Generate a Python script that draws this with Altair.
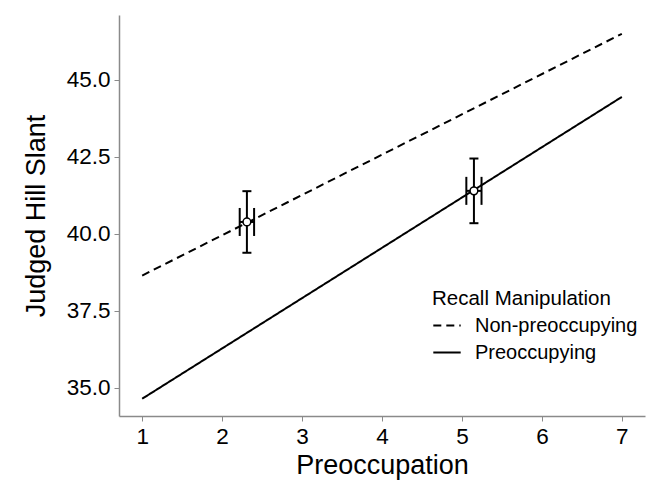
import altair as alt
import pandas as pd

# ---- data ----
x_ends = [1, 7]
nonpre_y = [38.65, 46.5]
pre_y = [34.65, 44.45]
conditions = ["Non-preoccupying", "Preoccupying"]

point_x = [2.31, 5.15]
point_y = [40.39, 41.40]
y_err = [1.0, 1.05]
x_err = [0.09, 0.095]

y_ticks = [35.0, 37.5, 40.0, 42.5, 45.0]
x_ticks = [1, 2, 3, 4, 5, 6, 7]

FONT = "Liberation Sans"

lines_df = pd.DataFrame({
    "x": x_ends + x_ends,
    "y": nonpre_y + pre_y,
    "cond": [conditions[0]] * 2 + [conditions[1]] * 2,
})

pts = pd.DataFrame({
    "x": point_x,
    "y": point_y,
    "ylo": [y - e for y, e in zip(point_y, y_err)],
    "yhi": [y + e for y, e in zip(point_y, y_err)],
    "xlo": [x - e for x, e in zip(point_x, x_err)],
    "xhi": [x + e for x, e in zip(point_x, x_err)],
})

xscale = alt.Scale(domain=[0.71, 7.29], nice=False, zero=False)
yscale = alt.Scale(domain=[34.09, 47.11], nice=False, zero=False)

xaxis = alt.Axis(values=x_ticks, title="Preoccupation", format="d")
yaxis = alt.Axis(values=y_ticks, title="Judged Hill Slant", format=".1f")

lines = alt.Chart(lines_df).mark_line(color="black", strokeWidth=2).encode(
    x=alt.X("x:Q", scale=xscale, axis=xaxis),
    y=alt.Y("y:Q", scale=yscale, axis=yaxis),
    strokeDash=alt.StrokeDash(
        "cond:N",
        scale=alt.Scale(domain=conditions, range=[[8, 5], [1, 0]]),
        legend=alt.Legend(
            title="Recall Manipulation",
            orient="none",
            legendX=313,
            legendY=274,
            symbolType="stroke",
            symbolStrokeColor="black",
            symbolStrokeWidth=2,
            symbolSize=750,
            labelLimit=400,
        ),
    ),
)

base = alt.Chart(pts)

vbar = base.mark_rule(color="black", strokeWidth=2).encode(
    x=alt.X("x:Q", scale=xscale), y=alt.Y("ylo:Q", scale=yscale), y2="yhi:Q"
)
vcap_top = base.mark_rule(color="black", strokeWidth=2, xOffset=-4.5, x2Offset=4.5).encode(
    x=alt.X("x:Q", scale=xscale), x2="x:Q", y=alt.Y("yhi:Q", scale=yscale)
)
vcap_bot = base.mark_rule(color="black", strokeWidth=2, xOffset=-4.5, x2Offset=4.5).encode(
    x=alt.X("x:Q", scale=xscale), x2="x:Q", y=alt.Y("ylo:Q", scale=yscale)
)
hbar = base.mark_rule(color="black", strokeWidth=2).encode(
    x=alt.X("xlo:Q", scale=xscale), x2="xhi:Q", y=alt.Y("y:Q", scale=yscale)
)
hcap_l = base.mark_rule(color="black", strokeWidth=2, yOffset=-14, y2Offset=14).encode(
    x=alt.X("xlo:Q", scale=xscale), y=alt.Y("y:Q", scale=yscale), y2="y:Q"
)
hcap_r = base.mark_rule(color="black", strokeWidth=2, yOffset=-14, y2Offset=14).encode(
    x=alt.X("xhi:Q", scale=xscale), y=alt.Y("y:Q", scale=yscale), y2="y:Q"
)
points = base.mark_point(
    shape="circle", filled=True, fill="white", stroke="black", strokeWidth=1.5, size=60, opacity=1
).encode(x=alt.X("x:Q", scale=xscale), y=alt.Y("y:Q", scale=yscale))

chart = alt.layer(lines, vbar, vcap_top, vcap_bot, hbar, hcap_l, hcap_r, points).properties(
    width=526,
    height=401,
    autosize=alt.AutoSizeParams(type="none"),
    padding={"left": 119, "top": 15, "right": 9, "bottom": 69},
    background="white",
).configure_view(stroke=None).configure_axis(
    grid=False,
    domainColor="#8a8a8a",
    domainWidth=1.5,
    tickColor="#8a8a8a",
    tickSize=5,
    tickWidth=1,
    labelColor="black",
    labelFont=FONT,
    labelFontSize=22.5,
    labelPadding=4,
    titleFont=FONT,
    titleFontSize=27,
    titleFontWeight="normal",
    titleColor="black",
).configure_axisX(titlePadding=5).configure_axisY(titlePadding=16).configure_legend(
    titleFont=FONT,
    titleFontSize=20.5,
    titleFontWeight="normal",
    titleColor="black",
    labelFont=FONT,
    labelFontSize=20,
    labelColor="black",
    labelLimit=400,
    rowPadding=2,
    titlePadding=1,
    labelOffset=13,
)

chart.save("out.html", embed_options={"renderer": "svg", "actions": False})
